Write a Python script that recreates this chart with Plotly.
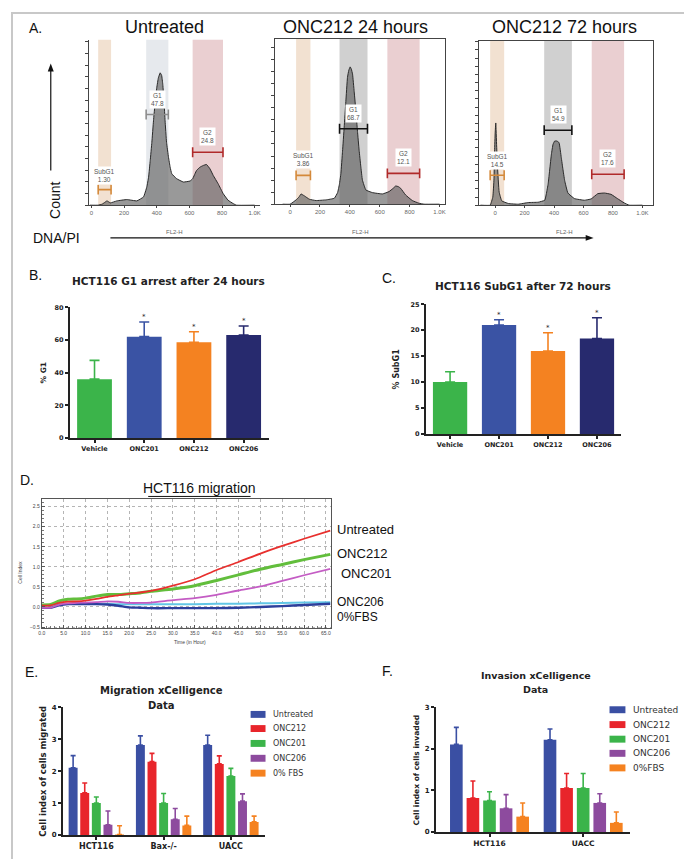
import plotly.graph_objects as go

W, H = 692, 859

# ======================= DATA =======================
# Panel A - DNA content histograms (FL2-H vs count)
hist_untreated_x = [-10, 40, 65, 80, 95, 116, 156, 217, 278, 319, 339, 350, 360, 370, 380, 390, 400, 410, 421, 430,
                    437, 445, 451, 460, 472, 482, 492, 522, 563, 604, 620, 644, 665, 685, 705, 726, 746, 776, 807, 837,
                    868, 888, 1000]
hist_untreated_y = [0, 0, 3, 8, 13, 7, 13, 17, 13, 25, 55, 85, 135, 190, 255, 310, 355, 385, 400, 392,
                    365, 310, 255, 190, 145, 115, 95, 80, 70, 73, 80, 105, 115, 120, 123, 110, 90, 65, 35, 15,
                    5, 0, 0]
hist_24h_x = [-50, 0, 40, 60, 73, 85, 96, 129, 173, 240, 296, 318, 330, 340, 351, 362, 373, 384, 393, 402,
              410, 418, 429, 440, 451, 462, 473, 484, 507, 551, 618, 662, 690, 707, 725, 740, 773, 818, 862, 896, 1000]
hist_24h_y = [0, 0, 13, 22, 31, 28, 25, 15, 11, 13, 18, 35, 60, 93, 160, 233, 310, 383, 405, 415,
              408, 393, 340, 283, 220, 163, 115, 73, 43, 35, 31, 38, 48, 55, 53, 48, 28, 11, 3, 0, 0]
hist_72h_x = [-100, -34, -16, -8, -4, 0, 4, 10, 16, 27, 45, 90, 157, 225, 292, 337, 348, 360, 371, 382,
              393, 404, 420, 434, 449, 460, 472, 494, 539, 607, 652, 697, 742, 787, 831, 876, 910, 1000]
hist_72h_y = [0, 0, 25, 80, 165, 220, 250, 180, 115, 40, 13, 5, 3, 8, 9, 15, 35, 65, 110, 155,
              185, 195, 195, 190, 145, 110, 75, 37, 20, 15, 19, 35, 37, 33, 20, 7, 0, 0]

gate_names = ["SubG1", "G1", "G2"]
gates_untreated_lo = [41, 335, 620]
gates_untreated_hi = [120, 471, 806]
gates_untreated_pct = ["1.30", "47.8", "24.8"]
gates_24h_lo = [40, 331, 651]
gates_24h_hi = [136, 518, 867]
gates_24h_pct = ["3.86", "68.7", "12.1"]
gates_72h_lo = [-34, 333, 656]
gates_72h_hi = [61, 521, 876]
gates_72h_pct = ["14.5", "54.9", "17.6"]

hist_titles = ["Untreated", "ONC212 24 hours", "ONC212 72 hours"]
hist_tick_vals = [0, 200, 400, 600, 800, 1000]
hist_tick_text = ["0", "200", "400", "600", "800", "1.0K"]

# Panel B
b_cats = ["Vehicle", "ONC201", "ONC212", "ONC206"]
b_vals = [36, 62, 58.5, 63]
b_err = [11.5, 9, 6.5, 5.5]
b_star = [False, True, True, True]
# Panel C
c_cats = ["Vehicle", "ONC201", "ONC212", "ONC206"]
c_vals = [10, 21, 16, 18.4]
c_err = [2, 1, 3.5, 4]
c_star = [False, True, True, True]
bc_colors = ["#3bb44a", "#3a53a4", "#f48221", "#272a6e"]

# Panel D - xCELLigence migration (Cell Index vs Time in hours)
d_hours = [0, 2, 4, 6, 8, 10, 12.5, 15, 17.5, 20, 22.5, 25, 30, 35, 40, 45, 50, 55, 60, 66]
d_untreated = [0.03, 0.04, 0.10, 0.13, 0.14, 0.16, 0.20, 0.25, 0.29, 0.33, 0.36, 0.40, 0.53, 0.69, 0.92, 1.12, 1.33, 1.52, 1.70, 1.90]
d_onc212 = [0.05, 0.06, 0.15, 0.19, 0.20, 0.22, 0.27, 0.31, 0.31, 0.33, 0.35, 0.39, 0.45, 0.53, 0.66, 0.80, 0.94, 1.06, 1.18, 1.31]
d_onc201 = [-0.02, -0.02, 0.06, 0.09, 0.10, 0.11, 0.12, 0.14, 0.13, 0.10, 0.10, 0.11, 0.17, 0.22, 0.30, 0.41, 0.51, 0.65, 0.79, 0.95]
d_fbs0 = [0.04, 0.05, 0.07, 0.08, 0.08, 0.08, 0.08, 0.08, 0.07, 0.07, 0.07, 0.07, 0.07, 0.07, 0.08, 0.08, 0.09, 0.10, 0.11, 0.12]
d_onc206 = [-0.02, -0.02, 0.04, 0.07, 0.07, 0.07, 0.07, 0.06, 0.03, -0.01, -0.02, -0.03, -0.03, -0.03, -0.03, -0.02, 0.00, 0.02, 0.05, 0.08]
d_labels = ["Untreated", "ONC212", "ONC201", "ONC206", "0%FBS"]

# Panel E - Migration xCelligence
e_groups = ["HCT116", "Bax-/-", "UACC"]
e_series = ["Untreated", "ONC212", "ONC201", "ONC206", "0% FBS"]
e_untreated = [2.11, 2.82, 2.82]
e_untreated_err = [0.38, 0.29, 0.31]
e_onc212 = [1.32, 2.30, 2.23]
e_onc212_err = [0.31, 0.26, 0.25]
e_onc201 = [1.00, 1.00, 1.85]
e_onc201_err = [0.19, 0.30, 0.24]
e_onc206 = [0.32, 0.49, 1.06]
e_onc206_err = [0.43, 0.34, 0.23]
e_fbs0 = [0.01, 0.30, 0.41]
e_fbs0_err = [0.28, 0.29, 0.18]

# Panel F - Invasion xCelligence
f_groups = ["HCT116", "UACC"]
f_series = ["Untreated", "ONC212", "ONC201", "ONC206", "0%FBS"]
f_untreated = [2.11, 2.22]
f_untreated_err = [0.41, 0.26]
f_onc212 = [0.82, 1.06]
f_onc212_err = [0.41, 0.35]
f_onc201 = [0.76, 1.06]
f_onc201_err = [0.21, 0.35]
f_onc206 = [0.57, 0.70]
f_onc206_err = [0.33, 0.22]
f_fbs0 = [0.37, 0.22]
f_fbs0_err = [0.33, 0.26]

ef_colors = ["#3a4fa3", "#e8252b", "#3bb44a", "#8d4b9e", "#f58220"]

# ======================= HELPERS =======================
def px(x):
    return x / W


def py(y):
    return 1 - y / H


def dom_x(a, b):
    return [a / W, b / W]


def dom_y(top, bottom):
    return [1 - bottom / H, 1 - top / H]


SANS = "Liberation Sans, Arial, sans-serif"
GP = "DejaVu Sans, Verdana, sans-serif"

fig = go.Figure()
annotations = []
shapes = []
layout = {}


def note(x, y, text, size, family=SANS, color="#111", xanchor="center", yanchor="middle", angle=0, weight="normal", **kw):
    annotations.append(dict(x=px(x), y=py(y), xref="paper", yref="paper", text=text, showarrow=False,
                            xanchor=xanchor, yanchor=yanchor, textangle=angle,
                            font=dict(size=size, family=family, color=color, weight=weight), **kw))


# ======================= PANEL A =======================
hist_sets = [
    (hist_untreated_x, hist_untreated_y, gates_untreated_lo, gates_untreated_hi, gates_untreated_pct),
    (hist_24h_x, hist_24h_y, gates_24h_lo, gates_24h_hi, gates_24h_pct),
    (hist_72h_x, hist_72h_y, gates_72h_lo, gates_72h_hi, gates_72h_pct),
]
hist_dom_x = [(78, 250), (266, 437), (471, 646)]
hist_dom_y = [(28, 195), (27, 194), (29, 195)]
hist_xrange = [[-18, 1030], [-98, 1040], [-108, 1074]]
hist_mirror = [False, True, True]
hist_dtick = [35.3, 36.4, 24.85]
gate_bar_y = [[47, 274, 160], [87, 228, 93], [91, 228, 94]]
gate_lab_y = [[90, 319, 207], [135, 275, 140], [135, 275, 142]]
band_cols = [
    ["rgba(222,180,140,0.40)", "rgba(200,207,215,0.45)", "rgba(205,140,145,0.42)"],
    ["rgba(222,180,140,0.40)", "rgba(150,150,150,0.45)", "rgba(205,140,145,0.42)"],
    ["rgba(222,180,140,0.40)", "rgba(150,150,150,0.45)", "rgba(205,140,145,0.42)"],
]
bar_cols = [["#d4893a", "#8d8d8d", "#b02a2a"], ["#d4893a", "#111111", "#b02a2a"], ["#d4893a", "#111111", "#b02a2a"]]
title_cx = [154, 346.5, 556.5]

for k, (hx, hy, glo, ghi, gpct) in enumerate(hist_sets):
    sfx = "" if k == 0 else str(k + 1)
    xa, ya = "x" + sfx, "y" + sfx
    fig.add_trace(go.Scatter(x=hx, y=hy, mode="lines", xaxis=xa, yaxis=ya,
                             line=dict(color="#2a2a2a", width=1, shape="spline", smoothing=0.3),
                             fill="tozeroy", fillcolor="rgba(90,90,90,0.62)", hoverinfo="skip"))
    for g in range(3):
        shapes.append(dict(type="rect", xref=xa, yref=ya + " domain", x0=glo[g], x1=ghi[g], y0=0, y1=1,
                           fillcolor=band_cols[k][g], line=dict(width=0), layer="below"))
        fig.add_trace(go.Scatter(x=[glo[g], ghi[g]], y=[gate_bar_y[k][g]] * 2, xaxis=xa, yaxis=ya,
                                 mode="lines+markers", line=dict(color=bar_cols[k][g], width=1.6),
                                 marker=dict(symbol="line-ns-open", size=7,
                                             line=dict(color=bar_cols[k][g], width=1.6)),
                                 hoverinfo="skip"))
        annotations.append(dict(x=(glo[g] + ghi[g]) / 2, y=gate_lab_y[k][g], xref=xa, yref=ya,
                                text=f"{gate_names[g]}<br>{gpct[g]}", showarrow=False,
                                font=dict(size=6.5, family=SANS, color="#555"),
                                bgcolor="white", borderpad=1))
    layout["xaxis" + sfx] = dict(domain=dom_x(*hist_dom_x[k]), range=hist_xrange[k], anchor=ya,
                                 showline=True, linecolor="#444", linewidth=1, mirror=hist_mirror[k],
                                 ticks="outside", ticklen=2, tickcolor="#444",
                                 tickvals=hist_tick_vals, ticktext=hist_tick_text,
                                 tickfont=dict(size=6, color="#666", family=SANS),
                                 showgrid=False, zeroline=False)
    layout["yaxis" + sfx] = dict(domain=dom_y(*hist_dom_y[k]), range=[0, 500], anchor=xa,
                                 showline=True, linecolor="#444", linewidth=1, mirror=hist_mirror[k],
                                 ticks="outside", ticklen=3, tickcolor="#444", tick0=0, dtick=hist_dtick[k],
                                 showticklabels=False, showgrid=False, zeroline=False)
    note(title_cx[k], 15, hist_titles[k], 18)

note(16, 16, "A.", 14, xanchor="left")
note(44, 190, "Count", 14, angle=-90)
note(20, 228, "DNA/PI", 14, xanchor="left")
for cx in [164, 352, 557]:
    note(cx, 222, "FL2-H", 6, color="#666")
# axis arrows
shapes.append(dict(type="line", xref="paper", yref="paper", x0=px(100), x1=px(579), y0=py(228), y1=py(228),
                   line=dict(color="#111", width=1.2)))
shapes.append(dict(type="path", xref="paper", yref="paper",
                   path=f"M {px(586)} {py(228)} L {px(578)} {py(225)} L {px(578)} {py(231)} Z",
                   fillcolor="#111", line=dict(width=0)))
shapes.append(dict(type="line", xref="paper", yref="paper", x0=px(40), x1=px(40), y0=py(160), y1=py(59),
                   line=dict(color="#111", width=1.2)))
shapes.append(dict(type="path", xref="paper", yref="paper",
                   path=f"M {px(40)} {py(52)} L {px(37)} {py(60)} L {px(43)} {py(60)} Z",
                   fillcolor="#111", line=dict(width=0)))

# ======================= PANELS B & C =======================
def bar_panel(sfx, cats, vals, errs, stars, xd, yd, yr, dtick):
    xa, ya = "x" + sfx, "y" + sfx
    for i in range(len(cats)):
        fig.add_trace(go.Bar(x=[i], y=[vals[i]], xaxis=xa, yaxis=ya, offset=-0.35, width=0.7,
                             marker=dict(color=bc_colors[i], line=dict(width=0)),
                             error_y=dict(type="data", symmetric=False, array=[errs[i]], arrayminus=[0],
                                          color=bc_colors[i], thickness=1.6, width=5),
                             hoverinfo="skip"))
        if stars[i]:
            annotations.append(dict(x=i, y=vals[i] + errs[i], xref=xa, yref=ya, text="*", showarrow=False,
                                    yanchor="bottom", yshift=-1, font=dict(size=7, family=GP, color="#222")))
    layout["xaxis" + sfx] = dict(domain=dom_x(*xd), range=[-0.5, len(cats) - 0.5], anchor=ya,
                                 showline=True, linecolor="#222", linewidth=1.5, ticks="outside", ticklen=3,
                                 tickwidth=1.5, tickcolor="#222", tickvals=list(range(len(cats))), ticktext=cats,
                                 tickfont=dict(size=6.5, family=GP, color="#222", weight="bold"),
                                 showgrid=False, zeroline=False)
    layout["yaxis" + sfx] = dict(domain=dom_y(*yd), range=yr, anchor=xa, showline=True, linecolor="#222",
                                 linewidth=1.5, ticks="outside", ticklen=3, tickwidth=1.5, tickcolor="#222",
                                 dtick=dtick, tickfont=dict(size=6.5, family=GP, color="#222", weight="bold"),
                                 showgrid=False, zeroline=False)


bar_panel("4", b_cats, b_vals, b_err, b_star, (59, 259), (298, 430), [0, 80], 20)
bar_panel("5", c_cats, c_vals, c_err, c_star, (417, 614), (295, 426), [0, 25], 5)

note(16, 265, "B.", 14, xanchor="left")
note(158, 272, "HCT116 G1 arrest after 24 hours", 10.5, family=GP, weight="bold", color="#222")
note(33, 364, "% G1", 7.5, family=GP, weight="bold", angle=-90, color="#222")
note(371, 268, "C.", 14, xanchor="left")
note(515, 277, "HCT116 SubG1 after 72 hours", 10.5, family=GP, weight="bold", color="#222")
note(388, 360, "% SubG1", 8, family=GP, weight="bold", angle=-90, color="#222")

# ======================= PANEL D =======================
d_series = [d_untreated, d_onc212, d_onc201, d_onc206, d_fbs0]
d_colors = ["#e8302e", "#62be3c", "#c45cc4", "#2c3f9c", "#62c6e6"]
d_widths = [1.8, 3.0, 1.8, 2.4, 2.0]
order = [4, 3, 2, 1, 0]
for j in order:
    fig.add_trace(go.Scatter(x=d_hours, y=d_series[j], xaxis="x6", yaxis="y6", mode="lines",
                             line=dict(color=d_colors[j], width=d_widths[j], shape="spline", smoothing=0.6),
                             hoverinfo="skip"))
layout["xaxis6"] = dict(domain=dom_x(31, 322), range=[0, 66.2], anchor="y6", showline=True, mirror=True,
                        linecolor="#555", linewidth=1, ticks="inside", ticklen=3, tickcolor="#555",
                        tick0=0, dtick=5, tickformat=".1f", tickfont=dict(size=5, family=SANS, color="#444"),
                        showgrid=True, gridcolor="#b5b5b5", griddash="dot", gridwidth=1, zeroline=False,
                        minor=dict(dtick=1, ticks="inside", ticklen=2, tickcolor="#777", showgrid=False))
layout["yaxis6"] = dict(domain=dom_y(492, 622), range=[-0.53, 2.68], anchor="x6", showline=True, mirror=True,
                        linecolor="#555", linewidth=1, ticks="inside", ticklen=3, tickcolor="#555",
                        tick0=-0.5, dtick=0.5, tickformat=".1f", tickfont=dict(size=5, family=SANS, color="#444"),
                        showgrid=True, gridcolor="#b5b5b5", griddash="dot", gridwidth=1, zeroline=False,
                        minor=dict(dtick=0.1, ticks="inside", ticklen=2, tickcolor="#777", showgrid=False))
note(7, 472, "D.", 14, xanchor="left")
note(189.5, 480, "HCT116 migration", 14)
shapes.append(dict(type="line", xref="paper", yref="paper", x0=px(138), x1=px(241), y0=py(489), y1=py(489),
                   line=dict(color="#111", width=1)))
note(9, 565, "Cell Index", 5, angle=-90, color="#444")
note(180, 636, "Time (in Hour)", 5, color="#444")
d_label_pos = [(326, 522), (326, 547), (330, 567), (326, 596), (326, 611)]
d_label_size = [13, 13, 13, 12, 12]
for lab, (lx, ly), ls in zip(d_labels, d_label_pos, d_label_size):
    note(lx, ly, lab, ls, xanchor="left", color="#111")

# ======================= PANELS E & F =======================
def grouped_panel(sfx, groups, series, data, errs, slot, bw, xd, yd, yr, xr, gfont):
    xa, ya = "x" + sfx, "y" + sfx
    n = len(series)
    for i in range(n):
        off = -n / 2 * slot + i * slot + (slot - bw) / 2
        fig.add_trace(go.Bar(x=list(range(len(groups))), y=data[i], xaxis=xa, yaxis=ya, offset=off, width=bw,
                             marker=dict(color=ef_colors[i], line=dict(width=0)),
                             error_y=dict(type="data", symmetric=False, array=errs[i],
                                          arrayminus=[0] * len(groups), color=ef_colors[i], thickness=1.6,
                                          width=2.5),
                             hoverinfo="skip"))
    layout["xaxis" + sfx] = dict(domain=dom_x(*xd), range=xr, anchor=ya, showline=True, linecolor="#222",
                                 linewidth=1.5, ticks="outside", ticklen=3, tickwidth=1.5, tickcolor="#222",
                                 tickvals=list(range(len(groups))), ticktext=groups,
                                 tickfont=dict(size=gfont, family=GP, color="#222", weight="bold"),
                                 showgrid=False, zeroline=False)
    layout["yaxis" + sfx] = dict(domain=dom_y(*yd), range=yr, anchor=xa, showline=True, linecolor="#222",
                                 linewidth=1.5, ticks="outside", ticklen=3, tickwidth=1.5, tickcolor="#222",
                                 dtick=1, tickfont=dict(size=7, family=GP, color="#222", weight="bold"),
                                 showgrid=False, zeroline=False)


grouped_panel("7", e_groups, e_series,
              [e_untreated, e_onc212, e_onc201, e_onc206, e_fbs0],
              [e_untreated_err, e_onc212_err, e_onc201_err, e_onc206_err, e_fbs0_err],
              0.1726, 0.133, (52, 255), (702, 830.7), [0, 4], [-0.5, 2.5], 8)
grouped_panel("8", f_groups, f_series,
              [f_untreated, f_onc212, f_onc201, f_onc206, f_fbs0],
              [f_untreated_err, f_onc212_err, f_onc201_err, f_onc206_err, f_fbs0_err],
              0.177, 0.135, (427.3, 622.6), (702, 827.7), [0, 3], [-0.573, 1.5], 7.5)

note(12, 666, "E.", 14, xanchor="left")
note(151, 685, "Migration xCelligence", 10, family=GP, weight="bold", color="#222")
note(151, 700, "Data", 10, family=GP, weight="bold", color="#222")
note(32, 766, "Cell index of cells migrated", 8.5, family=GP, weight="bold", angle=-90, color="#222")
note(371, 665, "F.", 14, xanchor="left")
note(528, 670, "Invasion xCelligence", 9.5, family=GP, weight="bold", color="#222")
note(528, 684, "Data", 9.5, family=GP, weight="bold", color="#222")
note(408, 765, "Cell index of cells invaded", 7.5, family=GP, weight="bold", angle=-90, color="#222")

# manual legends
e_leg_y = [709, 723.3, 738.3, 753.3, 768.3]
for i, lab in enumerate(e_series):
    shapes.append(dict(type="rect", xref="paper", yref="paper", x0=px(241), x1=px(256),
                       y0=py(e_leg_y[i] + 3.5), y1=py(e_leg_y[i] - 3.5),
                       fillcolor=ef_colors[i], line=dict(width=0)))
    note(262, e_leg_y[i], lab, 8, family=GP, xanchor="left", color="#333")
f_leg_y = [704.3, 719.3, 734, 748.3, 763]
for i, lab in enumerate(f_series):
    shapes.append(dict(type="rect", xref="paper", yref="paper", x0=px(602), x1=px(618),
                       y0=py(f_leg_y[i] + 3.5), y1=py(f_leg_y[i] - 3.5),
                       fillcolor=ef_colors[i], line=dict(width=0)))
    note(624, f_leg_y[i], lab, 9, family=GP, xanchor="left", color="#333")

# outer frame
shapes.append(dict(type="rect", xref="paper", yref="paper", x0=px(1), x1=px(690), y0=py(857), y1=py(1),
                   line=dict(color="#c8c8c8", width=2), fillcolor="rgba(0,0,0,0)"))

layout.update(dict(width=W, height=H, margin=dict(l=0, r=0, t=0, b=0), paper_bgcolor="white",
                   plot_bgcolor="white", showlegend=False, barmode="group",
                   font=dict(family=SANS, color="#222"),
                   annotations=annotations, shapes=shapes))
fig.update_layout(**layout)
fig.write_html("out.html")
